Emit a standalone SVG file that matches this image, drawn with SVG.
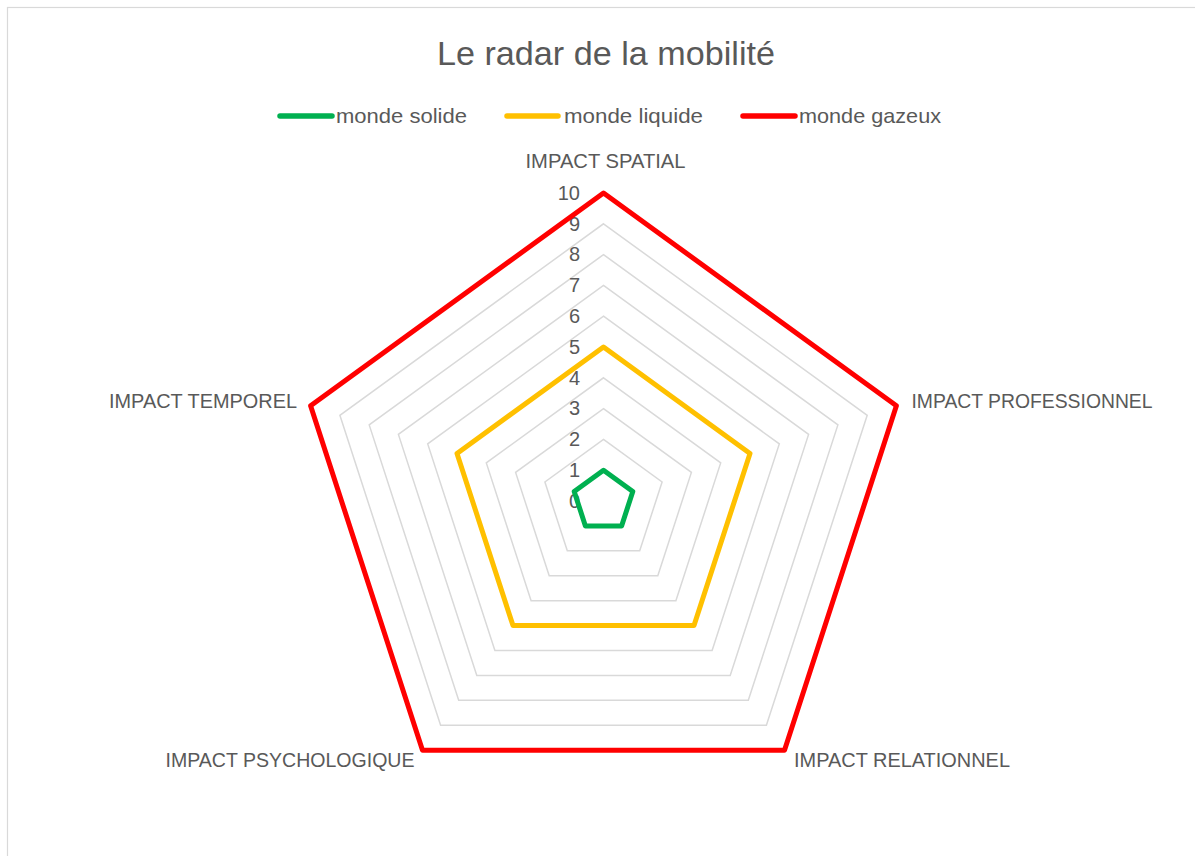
<svg xmlns="http://www.w3.org/2000/svg" width="1195" height="856" viewBox="0 0 1195 856">
  <style>
    text { font-family: "Liberation Sans", Arial, sans-serif; fill: #595959; }
    .title { font-size: 33.5px; }
    .axis { font-size: 21px; }
    .leg { font-size: 21px; }
    .tick { font-size: 20px; text-anchor: end; }
    .grid { fill: none; stroke: #d9d9d9; stroke-width: 1.5; }
    .series { fill: none; stroke-width: 5; stroke-linejoin: round; stroke-linecap: round; }
    .legline { stroke-width: 5.5; stroke-linecap: round; }
  </style>
  <rect x="0" y="0" width="1195" height="856" fill="#ffffff"/>
  <rect id="chart-border" x="7.5" y="7.5" width="1200" height="900" fill="none" stroke="#d9d9d9" stroke-width="1.2"/>

  <text id="title" class="title" x="437" y="64.5" textLength="338" lengthAdjust="spacingAndGlyphs">Le radar de la mobilité</text>

  <g id="legend">
    <g id="legend-solide">
      <line class="legline" x1="280" y1="116" x2="332" y2="116" stroke="#00b050"/>
      <text class="leg" x="336" y="123" textLength="131" lengthAdjust="spacingAndGlyphs">monde solide</text>
    </g>
    <g id="legend-liquide">
      <line class="legline" x1="507" y1="116" x2="558" y2="116" stroke="#ffc000"/>
      <text class="leg" x="564" y="123" textLength="139" lengthAdjust="spacingAndGlyphs">monde liquide</text>
    </g>
    <g id="legend-gazeux">
      <line class="legline" x1="743" y1="116" x2="795" y2="116" stroke="#ff0000"/>
      <text class="leg" x="799" y="123" textLength="142" lengthAdjust="spacingAndGlyphs">monde gazeux</text>
    </g>
  </g>

  <g id="gridlines">
    <polygon class="grid" points="603.5,470.2 632.8,491.5 621.6,525.9 585.4,525.9 574.2,491.5"/>
    <polygon class="grid" points="603.5,439.4 662.1,482.0 639.7,550.8 567.3,550.8 544.9,482.0"/>
    <polygon class="grid" points="603.5,408.6 691.4,472.4 657.8,575.8 549.2,575.8 515.6,472.4"/>
    <polygon class="grid" points="603.5,377.8 720.7,462.9 675.9,600.7 531.1,600.7 486.3,462.9"/>
    <polygon class="grid" points="603.5,347.0 750.0,453.4 694.0,625.6 513.0,625.6 457.0,453.4"/>
    <polygon class="grid" points="603.5,316.2 779.3,443.9 712.1,650.5 494.9,650.5 427.7,443.9"/>
    <polygon class="grid" points="603.5,285.4 808.6,434.4 730.2,675.4 476.8,675.4 398.4,434.4"/>
    <polygon class="grid" points="603.5,254.6 837.9,424.9 748.3,700.3 458.7,700.3 369.2,424.9"/>
    <polygon class="grid" points="603.5,223.8 867.2,415.3 766.4,725.3 440.6,725.3 339.9,415.3"/>
    <polygon class="grid" points="603.5,193.0 896.4,405.8 784.5,750.2 422.5,750.2 310.6,405.8"/>
  </g>

  <g id="tick-labels">
    <text class="tick" x="580" y="507.8">0</text>
    <text class="tick" x="580" y="477.0">1</text>
    <text class="tick" x="580" y="446.2">2</text>
    <text class="tick" x="580" y="415.4">3</text>
    <text class="tick" x="580" y="384.6">4</text>
    <text class="tick" x="580" y="353.8">5</text>
    <text class="tick" x="580" y="323.0">6</text>
    <text class="tick" x="580" y="292.2">7</text>
    <text class="tick" x="580" y="261.4">8</text>
    <text class="tick" x="580" y="230.6">9</text>
    <text class="tick" x="580" y="199.8">10</text>
  </g>

  <g id="axis-labels">
    <text id="label-spatial" class="axis" x="525.5" y="168" textLength="160" lengthAdjust="spacingAndGlyphs">IMPACT SPATIAL</text>
    <text id="label-professionnel" class="axis" x="911.5" y="407.5" textLength="241" lengthAdjust="spacingAndGlyphs">IMPACT PROFESSIONNEL</text>
    <text id="label-relationnel" class="axis" x="794" y="767" textLength="216" lengthAdjust="spacingAndGlyphs">IMPACT RELATIONNEL</text>
    <text id="label-psychologique" class="axis" x="165.5" y="767" textLength="249" lengthAdjust="spacingAndGlyphs">IMPACT PSYCHOLOGIQUE</text>
    <text id="label-temporel" class="axis" x="109" y="407.5" textLength="188" lengthAdjust="spacingAndGlyphs">IMPACT TEMPOREL</text>
  </g>

  <g id="series-gazeux">
    <polygon class="series" stroke="#ff0000" points="603.5,193.0 896.4,405.8 784.5,750.2 422.5,750.2 310.6,405.8"/>
  </g>
  <g id="series-liquide">
    <polygon class="series" stroke="#ffc000" points="603.5,347.0 750.0,453.4 694.0,625.6 513.0,625.6 457.0,453.4"/>
  </g>
  <g id="series-solide">
    <polygon class="series" stroke="#00b050" points="603.5,470.2 632.8,491.5 621.6,525.9 585.4,525.9 574.2,491.5"/>
  </g>
</svg>
